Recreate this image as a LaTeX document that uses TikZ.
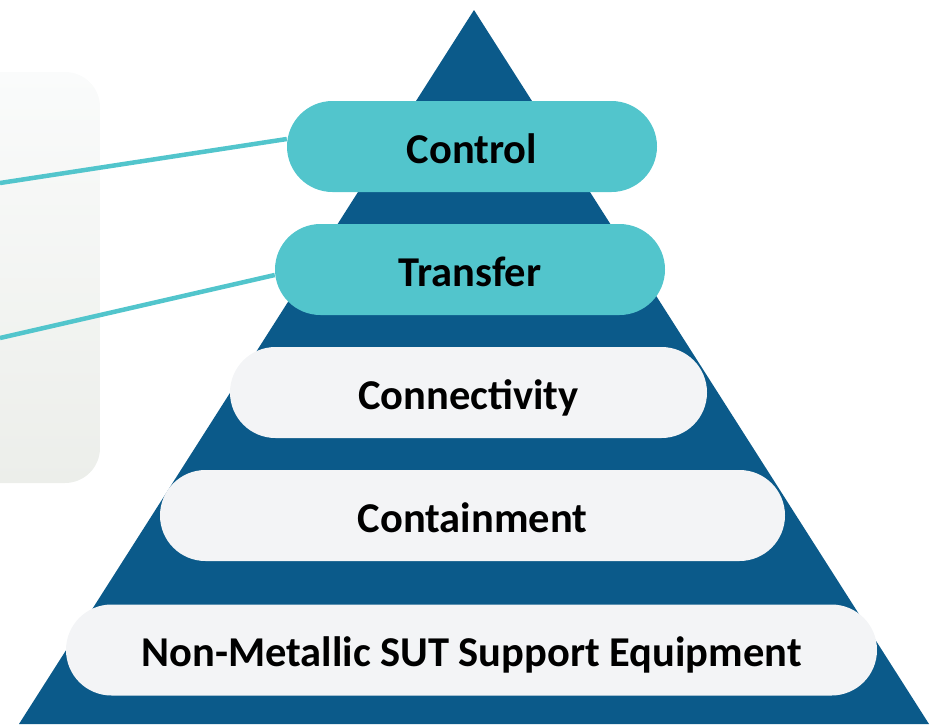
\documentclass[tikz,border=0pt]{standalone}
\usepackage{fontspec}
\setmainfont{Carlito}
\definecolor{pyrblue}{HTML}{0B5A8A}
\definecolor{tealpillc}{HTML}{52C5CC}
\definecolor{pillgray}{HTML}{F3F4F6}
\definecolor{paneltop}{HTML}{FAFBFB}
\definecolor{panelbot}{HTML}{ECEEEA}
\begin{document}
\begin{tikzpicture}[x=1pt,y=-1pt,
  pill/.style={rectangle, rounded corners=45.5pt, minimum height=91pt, inner sep=0pt,
    text height=33pt, text depth=0pt,
    font=\fontsize{42.5}{50}\selectfont\bfseries, text=black},
  tealpill/.style={pill, fill=tealpillc},
  graypill/.style={pill, fill=pillgray},
  link/.style={draw=tealpillc, line width=4.5pt}]
\useasboundingbox (0,0) rectangle (940,724);
\shade[top color=paneltop, bottom color=panelbot, rounded corners=35pt] (-60,72) rectangle (100,483);
\fill[pyrblue] (474,10) -- (929,724) -- (19,724) -- cycle;
\coordinate (l1) at (0,183);
\coordinate (l2) at (0,338);
\node[tealpill, minimum width=370pt] (control) at (472,146.5) {Control};
\node[tealpill, minimum width=390pt] (transfer) at (470,269.5) {Transfer};
\node[graypill, minimum width=477pt] (connectivity) at (468.5,392.5) {Connectivity};
\node[graypill, minimum width=625pt] (containment) at (472.5,515.5) {Containment};
\node[graypill, minimum width=811pt] (support) at (471.5,650) {Non-Metallic SUT Support Equipment};
\draw[link] (l1) -- ([yshift=7.5pt]control.west);
\draw[link] (l2) -- ([yshift=-5.5pt]transfer.west);
\end{tikzpicture}
\end{document}
